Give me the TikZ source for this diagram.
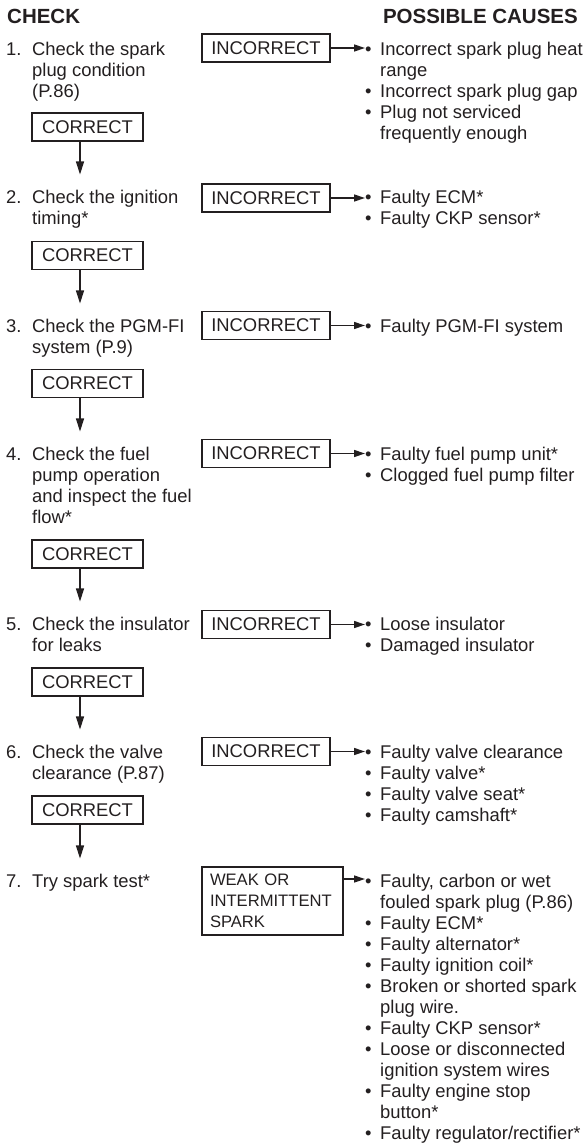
\documentclass[tikz,border=0pt]{standalone}
\usepackage{fontspec}
\setmainfont{Liberation Sans}
\usetikzlibrary{arrows.meta}
\definecolor{ink}{RGB}{35,31,32}
\newcommand{\bl}{\makebox[15pt][l]{•}}
\newcommand{\ct}{\hspace*{15pt}}
\def\lsk{21}
\begin{document}
\begin{tikzpicture}[x=1pt,y=-1pt,
  body/.style={font=\fontsize{18.4}{21}\selectfont, text=ink, inner sep=0pt},
  head/.style={font=\fontsize{20.5}{24}\selectfont\bfseries, text=ink, inner sep=0pt, anchor=base west},
  steptext/.style={body, align=left, anchor=base west},
  cause/.style={body, align=left, anchor=base west},
  incbox/.style={body, draw=ink, line width=1.6pt, minimum width=128pt, minimum height=28pt},
  corbox/.style={body, draw=ink, line width=1.6pt, minimum width=111pt, minimum height=28pt},
  weakbox/.style={body, font=\fontsize{16.6}{21}\selectfont, draw=ink, line width=1.6pt, minimum width=141pt, minimum height=68pt, text width=125pt, align=left},
  varr/.style={draw=ink, line width=1.6pt, shorten >=15pt, -{Triangle[length=13pt,width=8pt]}},
  harr/.style={draw=ink, line width=1.4pt, -{Triangle[length=11pt,width=7pt]}}
]
\useasboundingbox (0,0) rectangle (587,1146);
\coordinate (ax) at (80,0);

\node[head] (hc) at (7,23) {CHECK};
\node[head, anchor=base east] (hp) at (578,23) {POSSIBLE CAUSES};

% (multi-line nodes are anchored at the baseline of their last line)
% step 1
\node[steptext] (n1) at (6,55) {1.};
\node[steptext] (s1) at (32,{55+2*\lsk}) {Check the spark\\plug condition\\(P.86)};
\node[incbox] (i1) at (266,48) {INCORRECT};
\node[cause] (p1) at (365,{55+4*\lsk}) {\bl Incorrect spark plug heat\\\ct range\\\bl Incorrect spark plug gap\\\bl Plug not serviced\\\ct frequently enough};
\node[corbox] (c1) at (87.5,127) {CORRECT};

% step 2
\node[steptext] (n2) at (6,203) {2.};
\node[steptext] (s2) at (32,{203+\lsk}) {Check the ignition\\timing*};
\node[incbox] (i2) at (266,198) {INCORRECT};
\node[cause] (p2) at (365,{203+\lsk}) {\bl Faulty ECM*\\\bl Faulty CKP sensor*};
\node[corbox] (c2) at (87.5,255.5) {CORRECT};

% step 3
\node[steptext] (n3) at (6,332) {3.};
\node[steptext] (s3) at (32,{332+\lsk}) {Check the PGM-FI\\system (P.9)};
\node[incbox] (i3) at (266,325.5) {INCORRECT};
\node[cause] (p3) at (365,332) {\bl Faulty PGM-FI system};
\node[corbox] (c3) at (87.5,383.5) {CORRECT};

% step 4
\node[steptext] (n4) at (6,460) {4.};
\node[steptext] (s4) at (32,{460+3*\lsk}) {Check the fuel\\pump operation\\and inspect the fuel\\flow*};
\node[incbox] (i4) at (266,453.5) {INCORRECT};
\node[cause] (p4) at (365,{460+\lsk}) {\bl Faulty fuel pump unit*\\\bl Clogged fuel pump filter};
\node[corbox] (c4) at (87.5,554) {CORRECT};

% step 5
\node[steptext] (n5) at (6,630) {5.};
\node[steptext] (s5) at (32,{630+\lsk}) {Check the insulator\\for leaks};
\node[incbox] (i5) at (266,624.5) {INCORRECT};
\node[cause] (p5) at (365,{630+\lsk}) {\bl Loose insulator\\\bl Damaged insulator};
\node[corbox] (c5) at (87.5,682) {CORRECT};

% step 6
\node[steptext] (n6) at (6,758) {6.};
\node[steptext] (s6) at (32,{758+\lsk}) {Check the valve\\clearance (P.87)};
\node[incbox] (i6) at (266,751.5) {INCORRECT};
\node[cause] (p6) at (365,{758+3*\lsk}) {\bl Faulty valve clearance\\\bl Faulty valve*\\\bl Faulty valve seat*\\\bl Faulty camshaft*};
\node[corbox] (c6) at (87.5,810) {CORRECT};

% step 7
\node[steptext] (n7) at (6,887) {7.};
\node[steptext] (s7) at (32,887) {Try spark test*};
\node[weakbox] (w) at (272.5,901) {WEAK OR\\INTERMITTENT\\SPARK};
\node[cause] (p7) at (365,{887+12*\lsk}) {\bl Faulty, carbon or wet\\\ct fouled spark plug (P.86)\\\bl Faulty ECM*\\\bl Faulty alternator*\\\bl Faulty ignition coil*\\\bl Broken or shorted spark\\\ct plug wire.\\\bl Faulty CKP sensor*\\\bl Loose or disconnected\\\ct ignition system wires\\\bl Faulty engine stop\\\ct button*\\\bl Faulty regulator/rectifier*};
\coordinate (a7) at (0,879);

% connectors
\foreach \k/\n in {1/2,2/3,3/4,4/5,5/6,6/7}{
  \draw[varr] (c\k.south -| ax) -- (s\n.north -| ax);
}
\foreach \k in {1,...,6}{
  \draw[harr] (i\k.east) -- (p\k.west |- i\k.east);
}
\draw[harr] (w.east |- a7) -- (p7.west |- a7);
\end{tikzpicture}
\end{document}
